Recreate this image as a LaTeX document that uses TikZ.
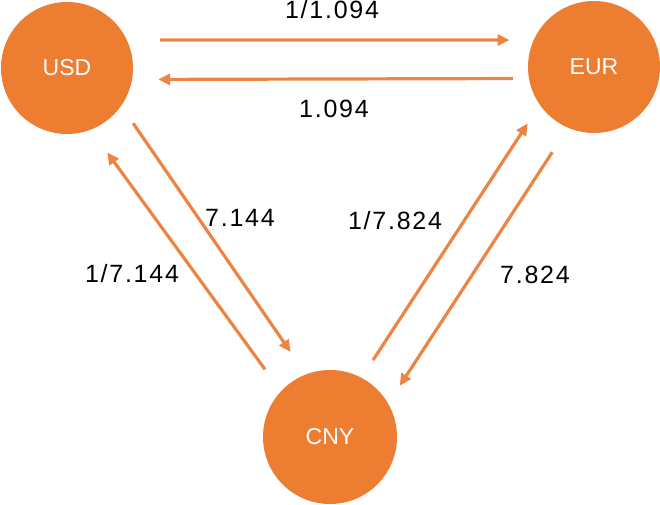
\documentclass[tikz,border=0pt]{standalone}
\usepackage{fontspec}
\setmainfont{Liberation Sans}
\newfontfamily\ratefont[LetterSpace=7]{Liberation Sans}
\usepackage{tikz}
\usetikzlibrary{positioning, calc, arrows.meta}
\definecolor{fxOrange}{RGB}{237,125,49}
\definecolor{fxLine}{RGB}{236,132,68}
\tikzset{
    currency/.style={
        circle,
        fill=fxOrange,
        text=white,
        minimum size=132pt,
        inner sep=0pt,
        font=\fontsize{23}{23}\selectfont
    },
    fx/.style={
        -{Triangle[length=12pt, width=11pt]},
        draw=fxLine,
        line width=3.2pt
    },
    rate/.style={
        font=\ratefont\fontsize{25}{25}\selectfont,
        inner sep=1pt
    }
}

\begin{document}
\begin{tikzpicture}[x=1pt, y=1pt]
    \useasboundingbox (0,0) rectangle (660,504);

    % các đồng tiền
    \node[currency] (usd) at (67,436) {USD};
    \node[currency] (eur) at (594,437) {EUR};
    \node[currency, minimum size=134pt] (cny) at (330,67) {CNY};

    % USD <-> EUR
    \draw[fx, shorten <=33pt, shorten >=24pt] (usd.25) -- (eur.156);
    \draw[fx, shorten <=16pt, shorten >=26pt] (eur.190) -- (usd.-10);
    \node[rate] (r_ue) at (332,494) {1/1.094};
    \node[rate] (r_eu) at (334,395) {1.094};

    % USD <-> CNY
    \draw[fx, shorten <=21pt, shorten >=27pt] (usd.-35) -- (cny.111);
    \draw[fx, shorten <=27pt, shorten >=28pt] (cny.137) -- (usd.-69);
    \node[rate] (r_uc) at (240,286) {7.144};
    \node[rate] (r_cu) at (132,230) {1/7.144};

    % CNY <-> EUR
    \draw[fx, shorten <=21pt, shorten >=22pt] (cny.62) -- (eur.215);
    \draw[fx, shorten <=29pt, shorten >=21pt] (eur.247) -- (cny.30);
    \node[rate] (r_ce) at (395,283) {1/7.824};
    \node[rate] (r_ec) at (535,229) {7.824};
\end{tikzpicture}
\end{document}
